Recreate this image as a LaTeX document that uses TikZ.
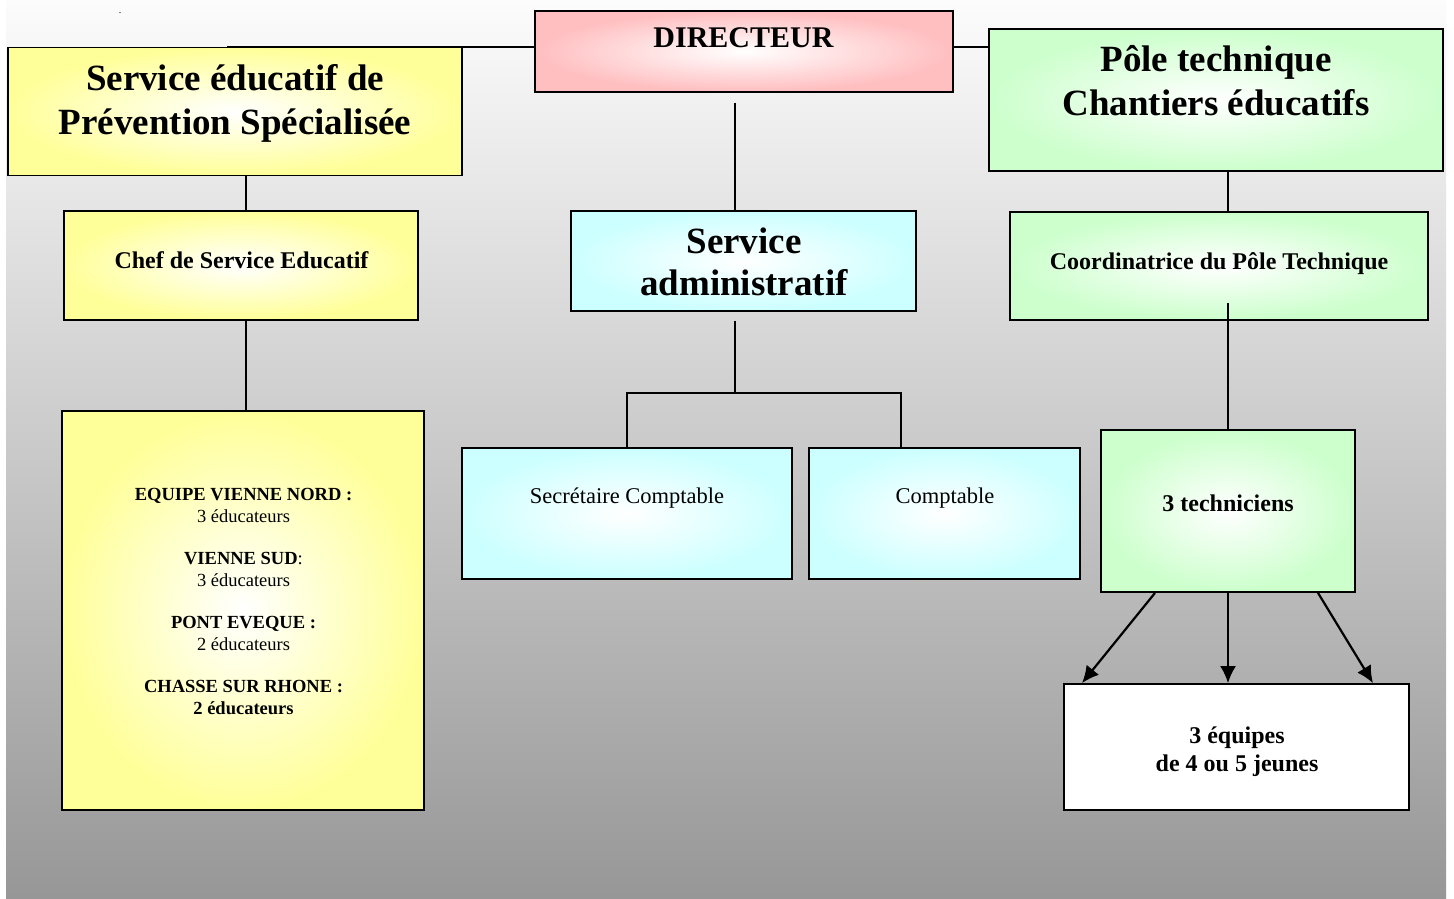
\documentclass[tikz,border=0pt]{standalone}
\usepackage{fontspec}
\setmainfont{Liberation Serif}
\usetikzlibrary{arrows.meta}

\definecolor{rose}{RGB}{255,190,192}
\definecolor{jaune}{RGB}{255,255,153}
\definecolor{bleuclair}{RGB}{204,255,255}
\definecolor{vert}{RGB}{204,255,204}
\definecolor{fondhaut}{RGB}{252,252,252}
\definecolor{fondbas}{RGB}{151,151,151}

\tikzset{
  boite/.style={draw=black, line width=1.8pt, inner sep=0pt},
  degrade/.style={boite, shade, shading=radial, inner color=white, outer color=#1},
  lien/.style={line width=2pt},
  fleche/.style={line width=2.2pt, -{Latex[length=17pt,width=16pt]}},
  grand/.style={font=\fontsize{37}{44}\selectfont\bfseries, align=center, inner sep=0pt},
  moyen/.style={font=\fontsize{30}{36}\selectfont\bfseries, inner sep=0pt},
  gras/.style={font=\fontsize{24}{28}\selectfont\bfseries, align=center, inner sep=0pt},
  normal/.style={font=\fontsize{22.5}{27}\selectfont, inner sep=0pt},
  petit/.style={font=\fontsize{18.5}{22}\selectfont, align=center, inner sep=0pt}
}

\begin{document}
\begin{tikzpicture}[x=1pt, y=-1pt]
\useasboundingbox (0,0) rectangle (1454,898);
\fill[white] (0,0) rectangle (1454,898);
\shade[top color=fondhaut, bottom color=fondbas] (6,0) rectangle (1446,898);
\node[font=\fontsize{10}{12}\selectfont, inner sep=0pt, anchor=base] (point) at (120,13) {.};

% boites
\node[degrade=rose, minimum width=418, minimum height=81] (dir) at (744,51.5) {};
\node[degrade=jaune, minimum width=454, minimum height=128] (seps) at (235,111.5) {};
\node[degrade=vert, minimum width=454, minimum height=142] (pole) at (1216,100) {};
\node[degrade=jaune, minimum width=354, minimum height=109] (chef) at (241,265.5) {};
\node[degrade=bleuclair, minimum width=345, minimum height=100] (adm) at (743.5,261) {};
\node[degrade=vert, minimum width=418, minimum height=108] (coord) at (1219,266) {};
\node[degrade=jaune, minimum width=362, minimum height=399] (equipes) at (243,610.5) {};
\node[degrade=bleuclair, minimum width=330, minimum height=131] (secr) at (627,513.5) {};
\node[degrade=bleuclair, minimum width=271, minimum height=131] (compt) at (944.5,513.5) {};
\node[degrade=vert, minimum width=254, minimum height=162] (tech) at (1228,511) {};
\node[boite, fill=white, minimum width=345, minimum height=126] (jeunes) at (1236.5,747) {};

% textes
\node[moyen, anchor=base] (dirtxt) at (743.5,47) {DIRECTEUR};
\node[grand] (sepstxt) at (235,103.5) {Service éducatif de\\Prévention Spécialisée};
\node[grand] (poletxt) at (1216,81) {Pôle technique\\Chantiers éducatifs};
\node[gras, anchor=base] (cheftxt) at (241.5,268) {Chef de Service Educatif};
\node[grand, font=\fontsize{37}{42}\selectfont\bfseries] (admtxt) at (744,262) {Service\\administratif};
\node[gras, anchor=base] (coordtxt) at (1219,269) {Coordinatrice du Pôle Technique};
\node[petit] (equipestxt) at (243.5,601) {\textbf{EQUIPE VIENNE NORD :}\\3 éducateurs\\[20pt]
  \textbf{VIENNE SUD}:\\3 éducateurs\\[20pt]
  \textbf{PONT EVEQUE :}\\2 éducateurs\\[20pt]
  \textbf{CHASSE SUR RHONE :}\\\textbf{2 éducateurs}};
\node[normal, anchor=base] (secrtxt) at (627,503.5) {Secrétaire Comptable};
\node[normal, anchor=base] (compttxt) at (945,503.5) {Comptable};
\node[gras, anchor=base] (techtxt) at (1228,511) {3 techniciens};
\node[gras] (jeunestxt) at (1237,752) {3 équipes\\de 4 ou 5 jeunes};

% liaisons
\coordinate (barre) at (0,393);
\coordinate (axeS) at ([xshift=5pt]chef.north);
\coordinate (axeA) at ([xshift=-8.5pt]adm.north);
\coordinate (axeC) at ([xshift=-43.5pt]compt.north);
\coordinate (axeP) at ([xshift=12pt]pole.south);
\draw[lien] ([xshift=-8pt]seps.north) -- (seps.north -| dir.west);
\draw[lien] (seps.north -| dir.east) -- (seps.north -| pole.west);
\draw[lien] (axeS |- seps.south) -- (axeS);
\draw[lien] (axeS |- chef.south) -- (axeS |- equipes.north);
\draw[lien, shorten <=10pt] (axeA |- dir.south) -- (axeA);
\draw[lien, shorten <=9pt] (axeA |- adm.south) -- (axeA |- barre);
\draw[lien] (secr.north) -- (secr.north |- barre) -- (axeC |- barre) -- (axeC);
\draw[lien] (axeP) -- (axeP |- coord.north);
\draw[lien, shorten <=-18pt] (tech.north |- coord.south) -- (tech.north);
\draw[fleche] ([xshift=-73pt]tech.south) -- ([xshift=-154.5pt]jeunes.north);
\draw[fleche] (tech.south) -- (tech.south |- jeunes.north);
\draw[fleche] ([xshift=90pt]tech.south) -- ([xshift=136.5pt]jeunes.north);
\end{tikzpicture}
\end{document}
